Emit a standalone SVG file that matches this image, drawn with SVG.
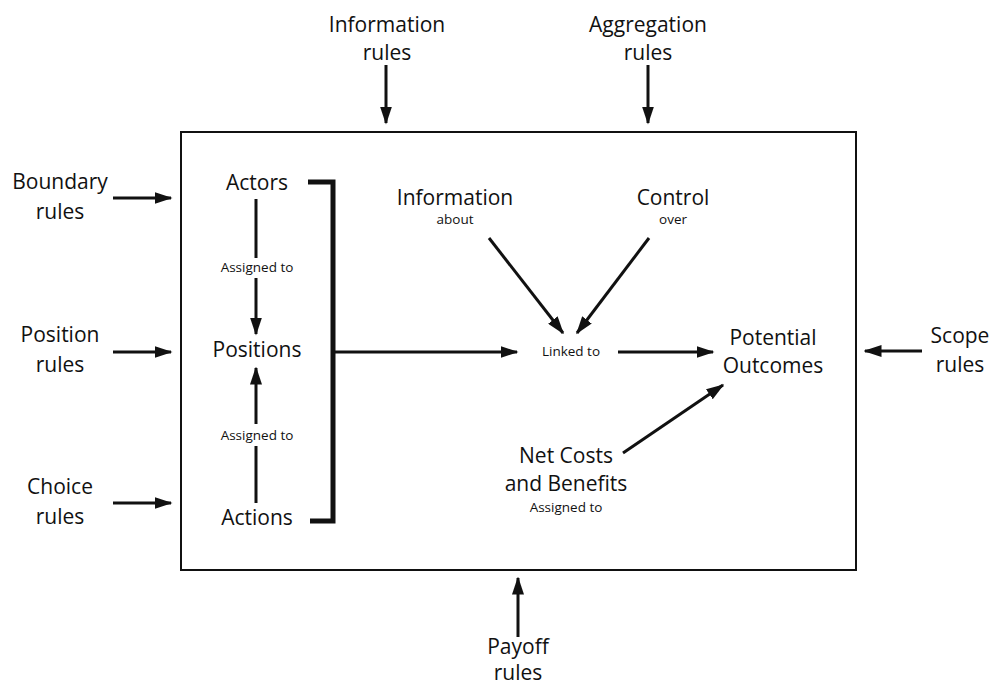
<svg xmlns="http://www.w3.org/2000/svg" width="993" height="685" viewBox="0 0 993 685">
  <style>
    text { font-family: "Open Sans", "Noto Sans", "Liberation Sans", sans-serif; fill: #111; text-anchor: middle; }
    .big { font-size: 21px; }
    .small { font-size: 13.5px; }
    .arrow { stroke: #111; stroke-width: 3; fill: none; marker-end: url(#head); }
    .frame { fill: #fff; stroke: #111; stroke-width: 2; }
    .bracket { stroke: #111; stroke-width: 5; fill: none; }
  </style>
  <defs>
    <marker id="head" viewBox="0 0 6 4" refX="5.5" refY="2" markerWidth="6" markerHeight="4" orient="auto" markerUnits="strokeWidth">
      <path d="M0,0 L6,2 L0,4 Z" fill="#111"/>
    </marker>
  </defs>

  <rect width="993" height="685" fill="#fff"/>

  <!-- action situation frame -->
  <rect id="frame" class="frame" x="181" y="132" width="675" height="438"/>

  <!-- outer rules -->
  <g id="information-rules"><text class="big" x="387" y="32">Information</text><text class="big" x="387" y="60">rules</text></g>
  <g id="aggregation-rules"><text class="big" x="648" y="32">Aggregation</text><text class="big" x="648" y="60">rules</text></g>
  <g id="boundary-rules"><text class="big" x="60" y="189">Boundary</text><text class="big" x="60" y="219">rules</text></g>
  <g id="position-rules"><text class="big" x="60" y="342">Position</text><text class="big" x="60" y="372">rules</text></g>
  <g id="choice-rules"><text class="big" x="60" y="494">Choice</text><text class="big" x="60" y="524">rules</text></g>
  <g id="scope-rules"><text class="big" x="960" y="343">Scope</text><text class="big" x="960" y="372">rules</text></g>
  <g id="payoff-rules"><text class="big" x="518" y="654">Payoff</text><text class="big" x="518" y="680">rules</text></g>

  <!-- inner elements -->
  <g id="actors"><text class="big" x="257" y="190">Actors</text></g>
  <g id="positions"><text class="big" x="257" y="357">Positions</text></g>
  <g id="actions"><text class="big" x="257" y="525">Actions</text></g>
  <g id="information"><text class="big" x="455" y="205">Information</text><text class="small" x="455" y="224">about</text></g>
  <g id="control"><text class="big" x="673" y="205">Control</text><text class="small" x="673" y="224">over</text></g>
  <g id="linked"><text class="small" x="571" y="356">Linked to</text></g>
  <g id="outcomes"><text class="big" x="773" y="345">Potential</text><text class="big" x="773" y="373">Outcomes</text></g>
  <g id="costs"><text class="big" x="566" y="463">Net Costs</text><text class="big" x="566" y="491">and Benefits</text><text class="small" x="566" y="512">Assigned to</text></g>

  <!-- connectors -->
  <g id="connectors">
    <line class="arrow" x1="386" y1="65" x2="386" y2="123"/>
    <line class="arrow" x1="648" y1="65" x2="648" y2="123"/>
    <line class="arrow" x1="113" y1="198" x2="171" y2="198"/>
    <line class="arrow" x1="113" y1="352" x2="171" y2="352"/>
    <line class="arrow" x1="113" y1="503" x2="171" y2="503"/>
    <line class="arrow" x1="922" y1="351" x2="865" y2="351"/>
    <line class="arrow" x1="518" y1="637" x2="518" y2="578"/>

    <!-- Actors to Positions -->
    <line x1="256" y1="199" x2="256" y2="258" stroke="#111" stroke-width="3"/>
    <text class="small" x="257" y="272">Assigned to</text>
    <line class="arrow" x1="256" y1="278" x2="256" y2="334"/>

    <!-- Actions to Positions -->
    <line class="arrow" x1="256" y1="424" x2="256" y2="368"/>
    <text class="small" x="257" y="440">Assigned to</text>
    <line x1="256" y1="446" x2="256" y2="503" stroke="#111" stroke-width="3"/>

    <!-- bracket grouping the three -->
    <polyline class="bracket" points="308,182 333,182 333,521 310,521"/>
    <line class="arrow" x1="335" y1="352" x2="517" y2="352"/>

    <line class="arrow" x1="489" y1="238" x2="563" y2="333"/>
    <line class="arrow" x1="649" y1="238" x2="577" y2="333"/>
    <line class="arrow" x1="618" y1="352" x2="713" y2="352"/>
    <line class="arrow" x1="623" y1="453" x2="723" y2="385"/>
  </g>
</svg>
